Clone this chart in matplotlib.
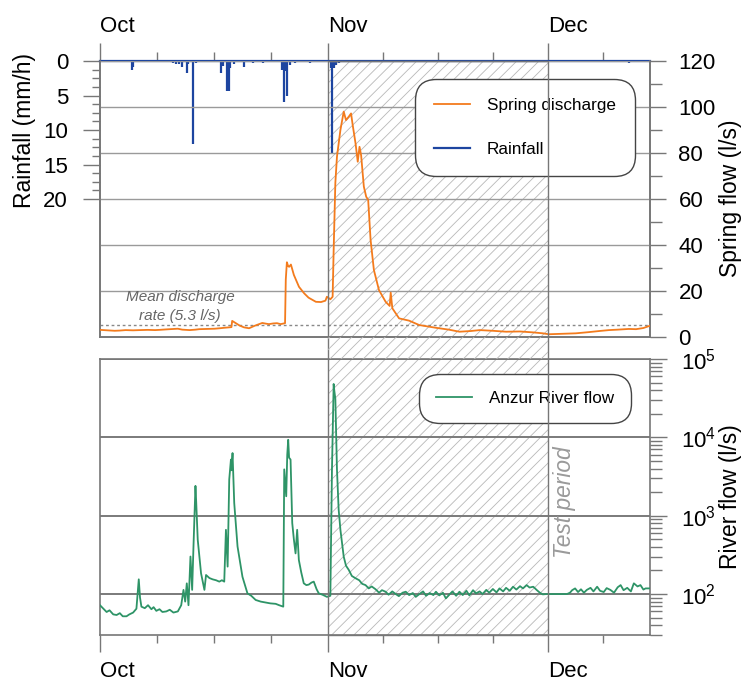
import matplotlib
matplotlib.use('Agg')
import matplotlib.pyplot as plt
import matplotlib.transforms as mtransforms
from matplotlib.lines import Line2D
from matplotlib.patches import Rectangle
from matplotlib.ticker import FixedLocator, LogLocator, NullFormatter

plt.rcParams['font.family'] = ['Liberation Sans', 'DejaVu Sans']
plt.rcParams['mathtext.default'] = 'regular'
plt.rcParams['hatch.linewidth'] = 0.6

# x values are days since 1 October
month_days = [0, 31, 61]
month_labels = ['Oct', 'Nov', 'Dec']
quarter_days = [7.75, 15.5, 23.25, 38.5, 46, 53.5, 68.5]
test_start, test_end = 31, 61
mean_discharge = 5.3

rain_day = [3.3, 4.3, 4.45, 9.9, 10.3, 10.8, 11.2, 11.8, 12.0, 12.6,
            13.1, 16.5, 16.7, 17.3, 17.45, 17.6, 17.7, 18.3, 19.6, 20.8,
            22.2, 24.8, 25.0, 25.2, 25.5, 25.9, 26.6, 27.5, 28.6, 29.5,
            31.4, 31.6, 31.8, 32.2, 32.6, 34.0, 36.0, 38.0, 40.0, 43.0,
            45.0, 48.0, 50.0, 52.0, 55.0, 58.0, 63.5, 64.8, 72.1]
rain_mm = [0.2, 1.3, 0.8, 0.3, 0.4, 0.5, 0.9, 1.7, 0.4, 12.0,
           0.3, 1.7, 0.7, 4.4, 4.4, 4.4, 1.0, 0.5, 0.8, 0.3,
           0.3, 1.3, 5.9, 1.5, 5.0, 0.6, 0.3, 0.2, 0.3, 0.2,
           1.0, 13.3, 1.0, 0.6, 0.3, 0.2, 0.2, 0.2, 0.2, 0.2,
           0.2, 0.2, 0.2, 0.2, 0.2, 0.2, 0.2, 0.2, 0.3]

spring_day = [0, 1, 2, 2.7, 3.5, 4.5, 5.4, 6.5, 7.5, 8.1,
              9.0, 9.5, 10.6, 11.2, 12.2, 13.0, 13.5, 14.5, 15.6, 16.3,
              16.9, 17.6, 17.9, 18.0, 18.4, 19.0, 19.6, 20.3, 21.0, 21.5,
              22.1, 22.6, 23.0, 23.6, 24.1, 24.6, 24.9, 25.2, 25.3, 25.45,
              25.6, 25.75, 26.0, 26.4, 27.1, 27.8, 28.4, 29.4, 30.1, 30.7,
              30.9, 31.37, 31.68, 31.82, 32.05, 32.27, 32.74, 33.19, 33.5, 33.88,
              34.19, 34.42, 34.8, 35.1, 35.34, 35.56, 35.93, 36.25, 36.52, 36.85,
              37.3, 37.99, 38.9, 39.45, 39.59, 39.81, 40.73, 42.1, 43.47, 45.75,
              47.5, 48.95, 50.5, 51.7, 53.5, 55.3, 57.2, 59.0, 60.3, 61.1,
              63.0, 64.8, 66.5, 68.0, 69.3, 70.5, 72.0, 73.0, 74.0, 74.8]
spring_q = [3.1, 2.9, 2.7, 2.8, 3.0, 2.9, 3.0, 3.1, 3.0, 3.1,
            3.3, 3.4, 3.6, 3.2, 3.0, 3.2, 3.4, 3.5, 3.6, 3.8,
            4.0, 4.2, 4.3, 7.0, 6.2, 5.0, 4.2, 3.8, 4.8, 5.4,
            6.1, 5.8, 5.6, 5.9, 6.0, 5.6, 5.8, 6.0, 25.0, 32.5,
            31.0, 30.5, 31.5, 27.0, 21.8, 19.0, 17.1, 15.3, 15.2, 15.8,
            17.5, 16.4, 17.5, 37.8, 67.0, 78.4, 90.0, 98.0, 94.3, 95.8,
            97.2, 92.0, 84.2, 76.2, 82.7, 79.0, 65.4, 61.0, 59.6, 42.2,
            29.1, 20.4, 15.3, 13.5, 19.3, 12.5, 8.1, 7.1, 5.2, 4.0,
            3.2, 2.3, 2.6, 3.0, 2.7, 2.3, 2.4, 2.0, 1.6, 1.2,
            1.4, 1.6, 2.1, 2.6, 3.0, 3.2, 3.5, 3.4, 3.9, 4.8]

river_day = [0, 0.4, 0.9, 1.3, 1.8, 2.26, 2.7, 3.1, 3.61, 4.0,
             4.51, 4.96, 5.15, 5.28, 5.45, 5.64, 6.1, 6.54, 7.0, 7.3,
             7.67, 8.1, 8.5, 9.03, 9.5, 10.0, 10.6, 11.06, 11.37, 11.6,
             11.82, 12.05, 12.32, 12.55, 12.73, 13.0, 13.1, 13.31, 13.76, 14.22,
             14.44, 14.9, 15.34, 15.8, 16.25, 16.6, 16.92, 17.15, 17.38, 17.6,
             17.83, 17.9, 18.05, 18.28, 18.73, 19.4, 20.08, 20.6, 21.2, 21.9,
             22.57, 23.2, 23.92, 24.4, 24.96, 25.09, 25.2, 25.36, 25.5, 25.63,
             25.75, 25.95, 26.18, 26.4, 26.63, 26.85, 27.08, 27.4, 27.75, 28.1,
             28.43, 28.8, 29.11, 29.5, 29.79, 30.3, 30.91, 31.37, 31.59, 31.82,
             31.9, 32.05, 32.27, 32.5, 32.74, 33.19, 33.5, 33.88, 34.3, 34.8,
             35.3, 35.7, 36.16, 36.6, 37.0, 37.53, 38.0, 38.4, 38.9, 39.3,
             39.8, 40.27, 40.7, 41.2, 41.64, 42.1, 42.6, 43.0, 43.5, 44.0,
             44.4, 44.9, 45.4, 45.75, 46.2, 46.7, 47.1, 47.6, 48.0, 48.5,
             48.95, 49.4, 49.9, 50.3, 50.8, 51.2, 51.7, 52.1, 52.6, 53.0,
             53.5, 54.0, 54.4, 54.9, 55.3, 55.8, 56.25, 56.7, 57.2, 57.6,
             58.1, 58.5, 59.0, 59.5, 59.9, 60.3, 60.8, 63.6, 64.0, 64.3,
             64.7, 65.1, 65.5, 65.9, 66.3, 66.8, 67.2, 67.7, 68.1, 68.6,
             69.0, 69.5, 70.0, 70.5, 70.9, 71.3, 71.8, 72.3, 72.7, 73.2,
             73.6, 74.0, 74.3, 74.8]
river_q = [72, 66, 59, 62, 55, 54, 57, 52, 52, 55,
           58, 65, 110, 154, 90, 69, 66, 72, 64, 68,
           61, 64, 59, 60, 63, 58, 60, 72, 113, 80,
           137, 72, 301, 113, 404, 2400, 1500, 493, 184, 113,
           175, 160, 154, 150, 144, 150, 144, 660, 224, 2900,
           5200, 3800, 6300, 1450, 404, 166, 102, 95, 84, 80,
           78, 76, 75, 72, 69, 3900, 2800, 1770, 6000, 9300,
           5500, 5200, 805, 500, 330, 660, 272, 190, 137, 130,
           132, 140, 144, 115, 102, 98, 92, 95, 3900, 48000,
           40000, 31000, 3900, 1200, 660, 300, 230, 203, 170, 159,
           150, 135, 130, 118, 125, 115, 104, 112, 107, 98,
           108, 100, 94, 104, 107, 97, 103, 92, 100, 108,
           95, 103, 97, 107, 96, 104, 88, 99, 108, 95,
           107, 97, 110, 96, 112, 102, 108, 100, 113, 104,
           116, 105, 118, 108, 120, 110, 124, 114, 126, 118,
           130, 121, 124, 112, 104, 99, 100, 100, 104, 112,
           118, 106, 115, 104, 113, 120, 108, 124, 110, 106,
           119, 113, 104, 122, 130, 112, 120, 108, 137, 125,
           130, 114, 118, 118]

orange = '#f37b1d'
blue = '#1d45a0'
green = '#2e9467'
grey = '#777777'
hatch_grey = '#b8b8b8'

W, H = 752, 684


def px_box(x0, y0, x1, y1):
    # pixel box (top-left origin) -> figure fraction rect
    return [x0 / W, 1 - y1 / H, (x1 - x0) / W, (y1 - y0) / H]


def round_legend(leg):
    frame = leg.get_frame()
    frame.set_boxstyle('round', pad=0, rounding_size=1.2)
    frame.set_linewidth(1)
    frame.set_facecolor('white')
    frame.set_alpha(1)


fig = plt.figure(figsize=(W / 100, H / 100), dpi=100)
ax_r = fig.add_axes(px_box(100, 61, 650, 337))
ax_s = ax_r.twinx()
ax_q = fig.add_axes(px_box(100, 359, 650, 635))

for ax in (ax_r, ax_s, ax_q):
    ax.set_xlim(0, 74.9)
    for sp in ax.spines.values():
        sp.set_color(grey)
        sp.set_linewidth(1.2)
ax_r.spines['top'].set_visible(False)
ax_s.spines['top'].set_visible(False)

# --- top panel: rainfall (left, inverted) + spring discharge (right)
ax_r.axvspan(test_start, test_end, facecolor='none', edgecolor=hatch_grey,
             hatch='///', linewidth=0, zorder=0.5)
ax_r.vlines(rain_day, 0, rain_mm, color=blue, linewidth=1.6, zorder=2)
ax_r.axhline(0, color=blue, linewidth=1.6, zorder=3, clip_on=False)
ax_r.set_ylim(40, 0)
ax_r.yaxis.set_major_locator(FixedLocator([0, 5, 10, 15, 20]))
ax_r.yaxis.set_minor_locator(FixedLocator([i * 1.25 for i in range(17)]))
ax_r.tick_params(axis='y', which='major', length=12, width=1, color=grey,
                 labelsize=16, pad=11)
ax_r.tick_params(axis='y', which='minor', length=6, width=1, color=grey)

ax_r.xaxis.tick_top()
ax_r.set_xticks(month_days)
ax_r.set_xticklabels(month_labels)
ax_r.set_xticks(quarter_days, minor=True)
ax_r.tick_params(axis='x', which='major', length=13, width=1, color=grey,
                 labelsize=16, pad=4)
ax_r.tick_params(axis='x', which='minor', length=6.5, width=1, color=grey)
for lab in ax_r.get_xticklabels():
    lab.set_ha('left')

spring_line, = ax_s.plot(spring_day, spring_q, color=orange, linewidth=1.3,
                         zorder=3)
ax_s.axhline(mean_discharge, color='#888888', linewidth=1,
             linestyle=(0, (2, 2)), zorder=2)
ax_s.set_ylim(0, 120)
ax_s.set_yticks([0, 20, 40, 60, 80, 100, 120])
ax_s.set_yticks([10, 30, 50, 70, 90, 110], minor=True)
ax_s.tick_params(axis='y', which='major', length=11.5, width=1, color=grey,
                 labelsize=16, pad=9)
ax_s.tick_params(axis='y', which='minor', length=8.5, width=1, color=grey)
ax_s.yaxis.grid(True, which='major', color='#9a9a9a', linewidth=1)
ax_s.text(10.9, 13.2, 'Mean discharge\nrate (5.3 l/s)', ha='center',
          va='center', fontsize=11, style='italic', color='#666666',
          linespacing=1.45)

rain_handle = Line2D([], [], color=blue, linewidth=1.6)
leg = ax_s.legend([spring_line, rain_handle], ['Spring discharge', 'Rainfall'],
                  loc='upper left', bbox_to_anchor=(415 / W, 1 - 79 / H),
                  bbox_transform=fig.transFigure, borderaxespad=0,
                  fontsize=12.3, borderpad=1.1, labelspacing=1.7,
                  handlelength=2.1, handletextpad=1.0, framealpha=1,
                  edgecolor='#444444', facecolor='white', fancybox=True)
leg.set_zorder(10)
round_legend(leg)

# --- bottom panel: river flow (log, right)
ax_q.axvspan(test_start, test_end, facecolor='none', edgecolor=hatch_grey,
             hatch='///', linewidth=0, zorder=0.5)
ax_q.plot(river_day, river_q, color=green, linewidth=1.3, zorder=3,
          label='Anzur River flow')
ax_q.set_yscale('log')
ax_q.set_ylim(30, 1e5)
ax_q.yaxis.tick_right()
ax_q.yaxis.set_major_locator(LogLocator(base=10))
ax_q.yaxis.set_minor_locator(LogLocator(base=10, subs=range(2, 10)))
ax_q.yaxis.set_minor_formatter(NullFormatter())
ax_q.tick_params(axis='y', which='major', length=12, width=1, color=grey,
                 labelsize=16, pad=10)
ax_q.tick_params(axis='y', which='minor', length=8.5, width=1, color=grey)
ax_q.yaxis.grid(True, which='major', color='#7a7a7a', linewidth=1.4)
ax_q.set_xticks(month_days)
ax_q.set_xticklabels(month_labels)
ax_q.set_xticks(quarter_days, minor=True)
ax_q.tick_params(axis='x', which='major', length=12.5, width=1, color=grey,
                 labelsize=16, pad=6)
ax_q.tick_params(axis='x', which='minor', length=6, width=1, color=grey)
for lab in ax_q.get_xticklabels():
    lab.set_ha('left')
ax_q.text(63.3, 1500, 'Test period', rotation=90, ha='center', va='center',
          fontsize=16.4, style='italic', color='#9a9a9a')

leg2 = ax_q.legend(loc='upper left', bbox_to_anchor=(419 / W, 1 - 374 / H),
                   bbox_transform=fig.transFigure, borderaxespad=0,
                   fontsize=12.3, borderpad=1.0, handlelength=2.1,
                   handletextpad=1.0, framealpha=1, edgecolor='#444444',
                   facecolor='white', fancybox=True)
leg2.set_zorder(10)
round_legend(leg2)

# test period box across both panels (incl. gap)
blend = mtransforms.blended_transform_factory(ax_q.transData, fig.transFigure)
gap_bottom = 1 - 359 / H
gap_top = 1 - 337 / H
fig.add_artist(Rectangle((test_start, gap_bottom), test_end - test_start,
                         gap_top - gap_bottom, transform=blend,
                         facecolor='none', edgecolor=hatch_grey, hatch='///',
                         linewidth=0))
box_bottom = 1 - 635 / H
box_top = 1 - 61 / H
fig.add_artist(Rectangle((test_start, box_bottom), test_end - test_start,
                         box_top - box_bottom, transform=blend,
                         facecolor='none', edgecolor=grey, linewidth=1,
                         zorder=0.9))

fig.text(25 / W, 1 - 131 / H, 'Rainfall (mm/h)', rotation=90, ha='center',
         va='center', fontsize=16.5)
fig.text(731 / W, 1 - 198 / H, 'Spring flow (l/s)', rotation=90, ha='center',
         va='center', fontsize=16.5)
fig.text(731 / W, 1 - 497 / H, 'River flow (l/s)', rotation=90, ha='center',
         va='center', fontsize=16.5)

fig.savefig('out.png', dpi=100)
